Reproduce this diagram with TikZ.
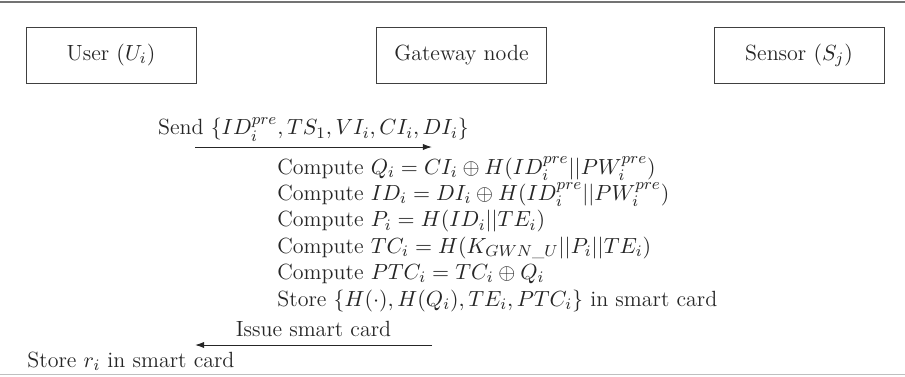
\documentclass[tikz,border=0pt]{standalone}
\usepackage{amsmath,amssymb}
\usetikzlibrary{arrows.meta}

\tikzset{
  party/.style={draw=black!75, minimum width=85pt, minimum height=28pt, inner sep=0pt},
  steptext/.style={anchor=base west, inner sep=0pt},
}

\begin{document}
\begin{tikzpicture}[x=0.5pt, y=-0.5pt, every node/.style={font=\fontsize{11}{13}\selectfont, text=black!85}, >={Latex[length=1.6mm, width=1.1mm]}]
	\useasboundingbox (0,0) rectangle (905,376);
	% frame lines
	\draw[black!55, line width=0.8pt] (0,2) -- (905,2);
	\draw[black!25, line width=0.8pt] (0,374.5) -- (905,374.5);
	% the three parties
	\node[party] (user) at (111,55) {User $(U_i)$};
	\node[party] (gateway) at (461.5,55) {Gateway node};
	\node[party] (sensor) at (799,55) {Sensor $(S_j)$};
	% registration message
	\coordinate (sendL) at (195,147);
	\coordinate (sendR) at (432,147);
	\draw[->, black!85, line width=0.5pt] (sendL) -- node[above, inner sep=2.5pt] (send) {Send $\{ID_i^{pre},TS_1,VI_i,CI_i,DI_i\}$} (sendR);
	% gateway side computations
	\node[steptext] (q) at (277,174) {Compute $Q_i=CI_i\oplus H(ID_i^{pre}||PW_i^{pre})$};
	\node[steptext] (id) at (277,200.4) {Compute $ID_i=DI_i\oplus H(ID_i^{pre}||PW_i^{pre})$};
	\node[steptext] (p) at (277,226.8) {Compute $P_i=H(ID_i||TE_i)$};
	\node[steptext] (tc) at (277,253.2) {Compute $TC_i=H(K_{GWN\_U}||P_i||TE_i)$};
	\node[steptext] (ptc) at (277,279.6) {Compute $PTC_i=TC_i\oplus Q_i$};
	\node[steptext] (store) at (277,306) {Store $\{H(\cdot),H(Q_i),TE_i,PTC_i\}$ in smart card};
	% smart card back to user
	\coordinate (issueR) at (432,345);
	\coordinate (issueL) at (195,345);
	\draw[->, black!85, line width=0.5pt] (issueR) -- node[above, inner sep=4pt] (issue) {Issue smart card} (issueL);
	\node[steptext] (keep) at (27,367) {Store $r_i$ in smart card};
\end{tikzpicture}
\end{document}
